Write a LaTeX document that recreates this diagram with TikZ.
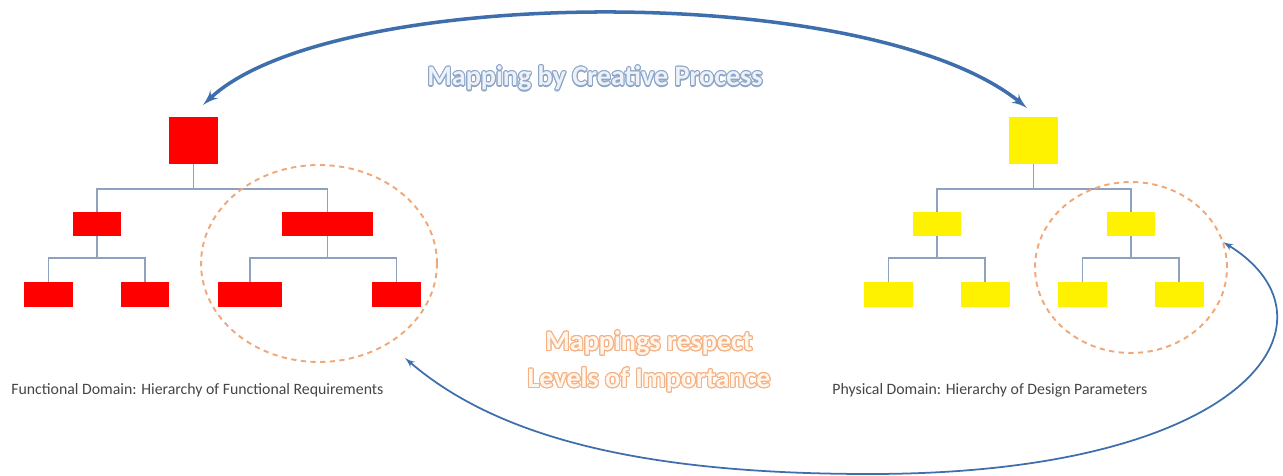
\documentclass[tikz,border=0pt]{standalone}
\usepackage{fontspec}
\setmainfont{Carlito}
\usepackage{contour}
\usepackage{tikz}
\usetikzlibrary{arrows}
\usetikzlibrary{shapes.geometric}
\definecolor{mapblue}{HTML}{3F6EAD}
\definecolor{treeblue}{HTML}{8EA2C0}
\definecolor{dashorange}{HTML}{F0A878}
\definecolor{labgray}{HTML}{454545}
\definecolor{titleblue}{HTML}{8CA6C8}
\definecolor{titlefill}{HTML}{EEF2F8}
\definecolor{noteorange}{HTML}{F4B183}
\definecolor{notefill}{HTML}{FFF6EE}
\tikzstyle{fr} = [fill=red, inner sep=0pt]
\tikzstyle{dp} = [fill=yellow, inner sep=0pt]
\tikzstyle{topbox} = [minimum width=0.98cm, minimum height=0.94cm]
\tikzstyle{midbox} = [minimum width=0.96cm, minimum height=0.48cm]
\tikzstyle{lowbox} = [minimum width=0.98cm, minimum height=0.5cm]
\tikzstyle{tree} = [draw=treeblue, line width=0.8pt]
\tikzstyle{group} = [draw=dashorange, ellipse, inner sep=0pt, line width=1.1pt, dash pattern=on 3pt off 2.5pt]
\tikzstyle{mapline} = [draw=mapblue, {latex'}-{latex'}, line width=2pt]
\tikzstyle{backline} = [draw=mapblue, {latex'}-{latex'}, line width=1pt]
\tikzstyle{domlabel} = [anchor=west, inner sep=0pt, text=labgray, font=\fontsize{9}{11}\selectfont]
\tikzstyle{bigtext} = [inner sep=0pt, align=center, font=\fontsize{16}{21}\selectfont\bfseries]

\begin{document}
\begin{tikzpicture}[x=0.02cm, y=-0.02cm]
	\useasboundingbox (0,0) rectangle (1283,476);
	\coordinate (bus1) at (0,189);
	\coordinate (bus2) at (0,258);
	\contourlength{0.6pt}
	% -------------- Functional Domain --------------
	\node[fr, topbox] (ftop) at (193.5,140.5) {};
	\node[fr, midbox] (fl)   at (97,224)   {};
	\node[fr, midbox, minimum width=1.82cm] (fr) at (327.5,224) {};
	\node[fr, lowbox] (fll)  at (48.5,294.5) {};
	\node[fr, lowbox] (flr)  at (145,294.5)  {};
	\node[fr, lowbox, minimum width=1.28cm] (frl) at (250,294.5) {};
	\node[fr, lowbox] (frr)  at (396.5,294.5) {};
	\draw[tree] (ftop.south) -- (ftop.south |- bus1);
	\draw[tree] (fl.north) |- (fr.north |- bus1) -- (fr.north);
	\draw[tree] (fl.south) -- (fl.south |- bus2);
	\draw[tree] (fll.north) |- (flr.north |- bus2) -- (flr.north);
	\draw[tree] (fr.south) -- (fr.south |- bus2);
	\draw[tree] (frl.north) |- (frr.north |- bus2) -- (frr.north);
	\node[group, minimum width=4.72cm, minimum height=3.94cm] (fcirc) at (319,263.5) {};
	\node[domlabel] (flab) at (11,390) {Functional Domain: Hierarchy of Functional Requirements};
	% -------------- Physical Domain --------------
	\node[dp, topbox] (ptop) at (1033.5,140.5) {};
	\node[dp, midbox] (pl)   at (937,224)   {};
	\node[dp, midbox] (pr)   at (1131,224)  {};
	\node[dp, lowbox] (pll)  at (888.5,294.5) {};
	\node[dp, lowbox] (plr)  at (985,294.5)   {};
	\node[dp, lowbox] (prl)  at (1082.5,294.5) {};
	\node[dp, lowbox] (prr)  at (1179,294.5)  {};
	\draw[tree] (ptop.south) -- (ptop.south |- bus1);
	\draw[tree] (pl.north) |- (pr.north |- bus1) -- (pr.north);
	\draw[tree] (pl.south) -- (pl.south |- bus2);
	\draw[tree] (pll.north) |- (plr.north |- bus2) -- (plr.north);
	\draw[tree] (pr.south) -- (pr.south |- bus2);
	\draw[tree] (prl.north) |- (prr.north |- bus2) -- (prr.north);
	\node[group, minimum width=3.84cm, minimum height=3.42cm] (pcirc) at (1131,267.5) {};
	\node[domlabel] (plab) at (832,390) {Physical Domain: Hierarchy of Design Parameters};
	% -------------- Mappings --------------
	\node[bigtext, text=titlefill] (title) at (595,79) {\contour{titleblue}{Mapping by Creative Process}};
	\node[bigtext, text=notefill] (note) at (649,362) {\contour{noteorange}{Mappings respect}\\\contour{noteorange}{Levels of Importance}};
	\coordinate (mapl) at (203,105);
	\coordinate (mapr) at (1027,108);
	\draw[mapline] (mapl) .. controls (330,-15) and (870,-20) .. (mapr);
	\coordinate (backl) at (405,358);
	\coordinate (backr) at (1223,242);
	\draw[backline] (backl) .. controls (500,440) and (650,474) .. (870,474) .. controls (1250,474) and (1350,320) .. (backr);
\end{tikzpicture}
\end{document}
